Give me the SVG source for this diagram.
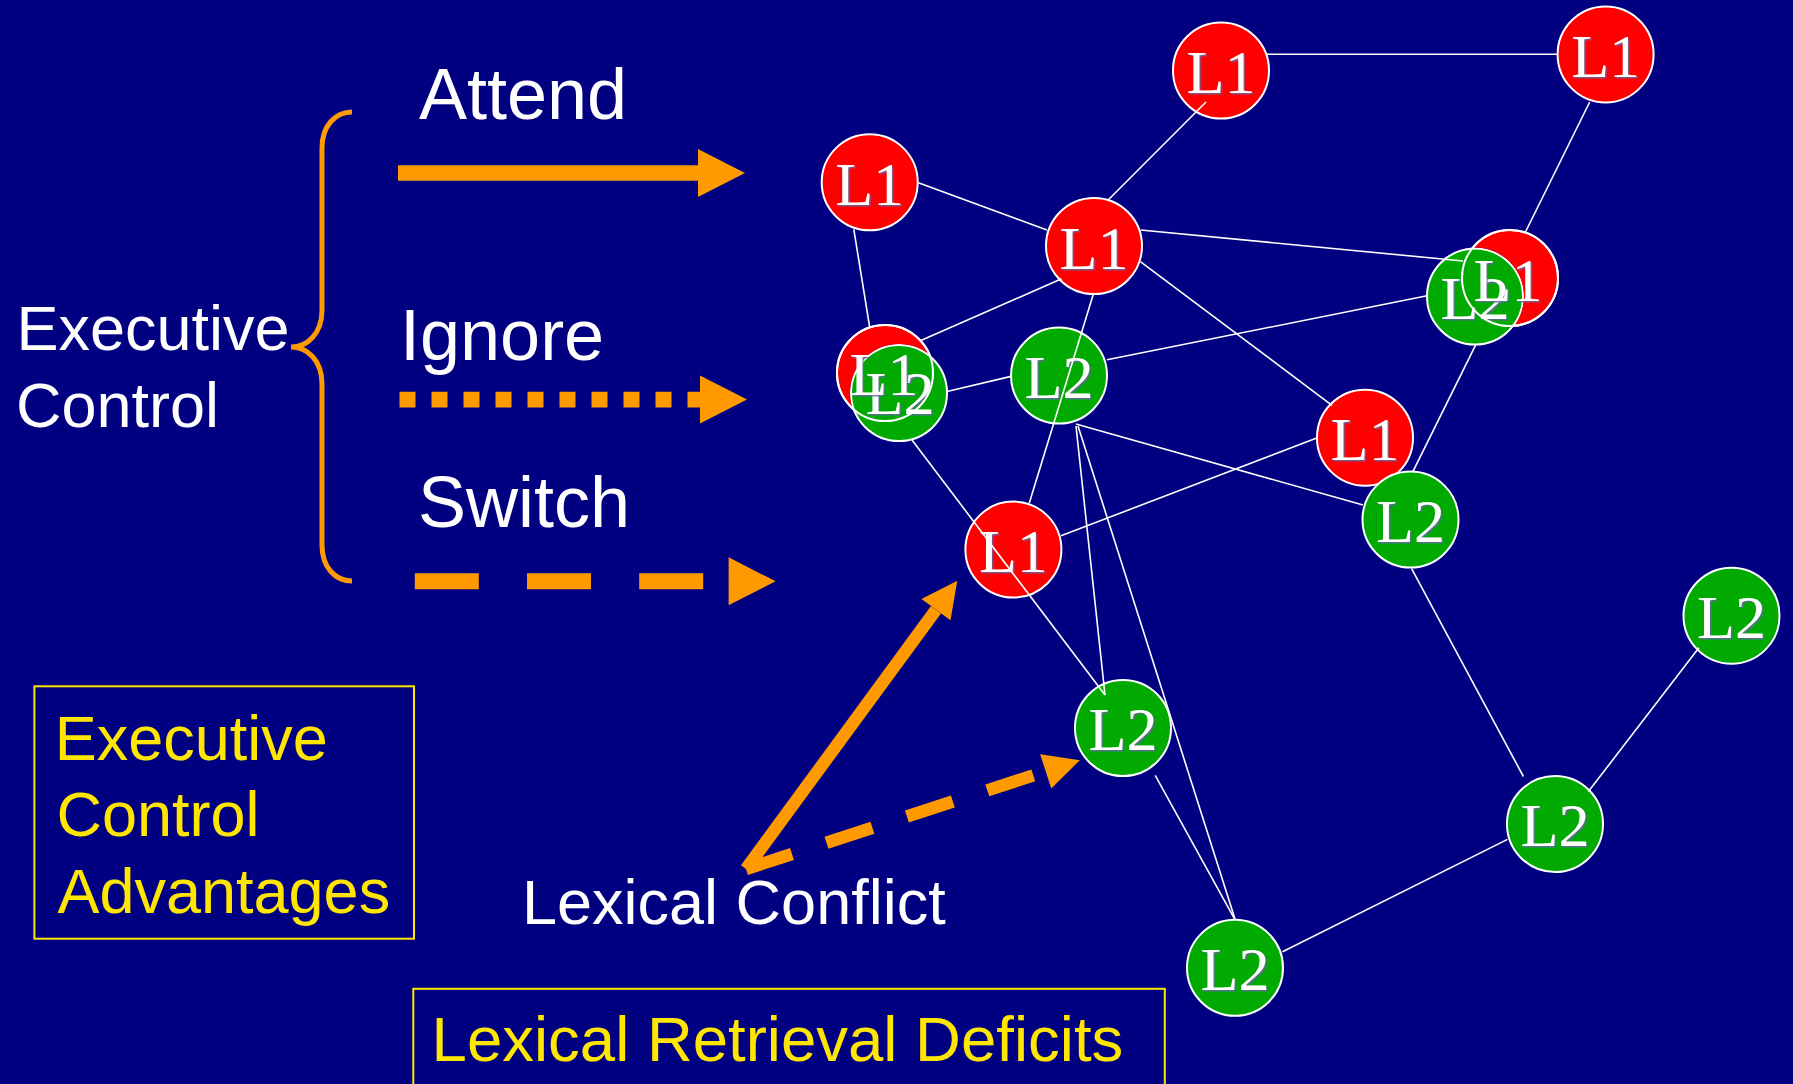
<svg xmlns="http://www.w3.org/2000/svg" width="1793" height="1084" viewBox="0 0 1793 1084">
<style>
.bg{fill:#000080}
.red{fill:#FF0000;stroke:#FFFFFF;stroke-width:2}
.green{fill:#00AA00;stroke:#FFFFFF;stroke-width:2}
.ring{fill:none;stroke:#FFFFFF;stroke-width:2}
.nt{font-family:"Liberation Serif","Times New Roman",serif;font-size:62px;fill:#FFFFFF;text-anchor:middle;filter:url(#sh)}
.edge{stroke:#FFFFFF;stroke-width:1.6;fill:none}
.lbl{font-family:"Liberation Sans",Arial,sans-serif;fill:#FFFFFF}
.yl{font-family:"Liberation Sans",Arial,sans-serif;fill:#FFE600;font-size:63px}
.ybox{fill:none;stroke:#FFE600;stroke-width:2}
.or{stroke:#FF9900;fill:none}
</style>
<defs>
<filter id="sh" x="-10%" y="-10%" width="130%" height="130%">
<feDropShadow dx="1.5" dy="1.5" stdDeviation="0" flood-color="#6666AA" flood-opacity="0.8"/>
</filter>
<marker id="bigHead" markerUnits="userSpaceOnUse" markerWidth="48" markerHeight="48" refX="0" refY="24" orient="auto" overflow="visible">
<path d="M0,0 L47,24 L0,48 z" fill="#FF9900"/>
</marker>
<marker id="smallHead" markerUnits="userSpaceOnUse" markerWidth="36" markerHeight="36" refX="0" refY="18" orient="auto" overflow="visible">
<path d="M0,0 L36,18 L0,36 z" fill="#FF9900"/>
</marker>
<mask id="m5" maskUnits="userSpaceOnUse" x="0" y="0" width="1793" height="1084">
<rect x="0" y="0" width="1793" height="1084" fill="#FFFFFF"/>
<circle cx="1475" cy="296.5" r="49" fill="#000000"/>
</mask>
<mask id="m7" maskUnits="userSpaceOnUse" x="0" y="0" width="1793" height="1084">
<rect x="0" y="0" width="1793" height="1084" fill="#FFFFFF"/>
<circle cx="899" cy="393" r="49" fill="#000000"/>
</mask>
</defs>
<rect class="bg" x="0" y="0" width="1793" height="1084"/>

<!-- left labels -->
<g id="executive-control">
<text class="lbl" x="16.5" y="350" font-size="63">Executive</text>
<text class="lbl" x="16" y="427" font-size="63">Control</text>
</g>
<g id="brace">
<path class="or" stroke-width="5" d="M352,112 C335,112 322,126 322,148 L322,310 C322,334 307,347 291,347 C307,347 322,360 322,384 L322,545 C322,567 335,581 352,581"/>
</g>
<g id="attend">
<text class="lbl" x="419" y="118.6" font-size="72">Attend</text>
</g>
<g id="ignore">
<text class="lbl" x="400" y="360" font-size="72">Ignore</text>
</g>
<g id="switch">
<text class="lbl" x="418" y="527" font-size="72">Switch</text>
</g>
<g id="ec-advantages">
<rect class="ybox" x="34.4" y="686.3" width="379.6" height="252.4"/>
<text class="yl" x="54.7" y="759.5">Executive</text>
<text class="yl" x="56.5" y="836.4">Control</text>
<text class="yl" x="57.4" y="912.6">Advantages</text>
</g>
<g id="lexical-conflict">
<text class="lbl" x="522" y="924.3" font-size="63">Lexical Conflict</text>
</g>
<g id="lexical-retrieval">
<rect class="ybox" x="413.3" y="988.8" width="751.5" height="200"/>
<text class="yl" x="431.6" y="1061.3" style="font-size:63.5px">Lexical Retrieval Deficits</text>
</g>

<!-- nodes -->
<g id="n1"><circle class="red" cx="1221" cy="70.5" r="48"/><text class="nt" x="1221" y="93">L1</text></g>
<g id="n2"><circle class="red" cx="1605.6" cy="54.4" r="48"/><text class="nt" x="1605.6" y="77">L1</text></g>
<g id="n3"><circle class="red" cx="869.7" cy="182.3" r="48"/><text class="nt" x="869.7" y="205">L1</text></g>
<g id="n4"><circle class="red" cx="1094" cy="246" r="48"/><text class="nt" x="1094" y="269">L1</text></g>
<g id="n6"><circle class="green" cx="1475" cy="296.5" r="48"/><text class="nt" x="1475" y="319">L2</text></g>
<g id="n5"><circle class="red" cx="1510" cy="278" r="48" mask="url(#m5)"/><circle class="ring" cx="1510" cy="278" r="48"/><text class="nt" x="1508" y="301">L1</text></g>
<g id="n8"><circle class="green" cx="899" cy="393" r="48"/><text class="nt" x="900" y="414">L2</text></g>
<g id="n7"><circle class="red" cx="885" cy="373" r="48" mask="url(#m7)"/><circle class="ring" cx="885" cy="373" r="48"/><text class="nt" x="884" y="395">L1</text></g>
<g id="n9"><circle class="green" cx="1059" cy="375.6" r="48"/><text class="nt" x="1059" y="398">L2</text></g>
<g id="n10"><circle class="red" cx="1365" cy="437.7" r="48"/><text class="nt" x="1365" y="460">L1</text></g>
<g id="n11"><circle class="green" cx="1410.5" cy="519.6" r="48"/><text class="nt" x="1410.5" y="542">L2</text></g>
<g id="n12"><circle class="red" cx="1013.4" cy="549.6" r="48"/><text class="nt" x="1013.4" y="572">L1</text></g>
<g id="n13"><circle class="green" cx="1123" cy="728" r="48"/><text class="nt" x="1123" y="750">L2</text></g>
<g id="n14"><circle class="green" cx="1731.5" cy="615.7" r="48"/><text class="nt" x="1731.5" y="638">L2</text></g>
<g id="n15"><circle class="green" cx="1555" cy="824" r="48"/><text class="nt" x="1555" y="846">L2</text></g>
<g id="n16"><circle class="green" cx="1235" cy="967.8" r="48"/><text class="nt" x="1235" y="990">L2</text></g>

<!-- connectors -->
<g id="connectors">
<line class="edge" x1="1267" y1="54.2" x2="1558" y2="54.2"/>
<line class="edge" x1="1206" y1="102" x2="1108.4" y2="199.7"/>
<line class="edge" x1="1589.7" y1="102" x2="1525.2" y2="232.5"/>
<line class="edge" x1="918.4" y1="182.7" x2="1047" y2="230"/>
<line class="edge" x1="853.8" y1="229.3" x2="869.7" y2="327.4"/>
<line class="edge" x1="1140.7" y1="230" x2="1463" y2="261"/>
<line class="edge" x1="1061.6" y1="278.8" x2="920.3" y2="340.8"/>
<line class="edge" x1="1093.2" y1="294.6" x2="1029.3" y2="503"/>
<line class="edge" x1="1140.7" y1="261.8" x2="1332" y2="405.3"/>
<line class="edge" x1="1107" y1="359.8" x2="1427" y2="295.8"/>
<line class="edge" x1="1475.7" y1="344.8" x2="1413" y2="471.3"/>
<line class="edge" x1="947" y1="391.5" x2="1011" y2="376.4"/>
<line class="edge" x1="1076" y1="424" x2="1363" y2="505"/>
<line class="edge" x1="1061" y1="535.8" x2="1317.4" y2="437.7"/>
<line class="edge" x1="912" y1="440" x2="1105" y2="695"/>
<line class="edge" x1="1076" y1="426" x2="1105" y2="695"/>
<line class="edge" x1="1078" y1="426" x2="1235" y2="919"/>
<line class="edge" x1="1155.2" y1="775.4" x2="1234.8" y2="919.3"/>
<line class="edge" x1="1282.5" y1="951.7" x2="1507.5" y2="839.4"/>
<line class="edge" x1="1588.4" y1="791.6" x2="1698.9" y2="647.7"/>
<line class="edge" x1="1411.6" y1="568.6" x2="1523.4" y2="776.5"/>

<!-- orange arrows -->
<line class="or" stroke-width="15.4" x1="398" y1="173" x2="698" y2="173" marker-end="url(#bigHead)"/>
<line class="or" stroke-width="15.8" stroke-dasharray="16 16" x1="399.5" y1="399.6" x2="700" y2="399.6" marker-end="url(#bigHead)"/>
<line class="or" stroke-width="16" stroke-dasharray="64 48.2" x1="414.8" y1="581.3" x2="728.6" y2="581.3" marker-end="url(#bigHead)"/>
<line class="or" stroke-width="12.5" x1="746" y1="869" x2="936" y2="609.7" marker-end="url(#smallHead)"/>
<line class="or" stroke-width="12.5" stroke-dasharray="48.4 36.2" x1="746" y1="869" x2="1045.7" y2="771.3" marker-end="url(#smallHead)"/>
</g>
</svg>
